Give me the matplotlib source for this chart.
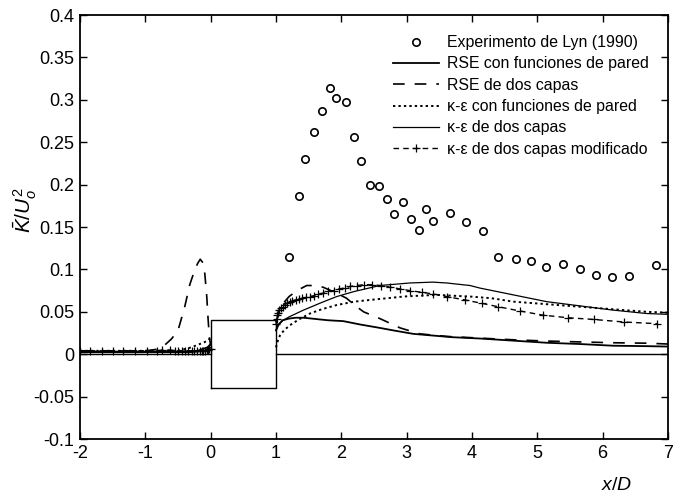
import numpy as np
import matplotlib
matplotlib.use('Agg')
import matplotlib.pyplot as plt
from matplotlib.ticker import FuncFormatter

plt.rcParams['font.family'] = ['Liberation Sans', 'DejaVu Sans']
plt.rcParams['axes.unicode_minus'] = False
plt.rcParams['mathtext.fontset'] = 'custom'
plt.rcParams['mathtext.it'] = 'Liberation Sans:italic'
plt.rcParams['mathtext.rm'] = 'Liberation Sans'

# experimento de Lyn (1990)
x_exp = [1.20, 1.35, 1.45, 1.58, 1.70, 1.82, 1.92, 2.07, 2.19, 2.30, 2.44, 2.58,
         2.70, 2.80, 2.95, 3.06, 3.19, 3.30, 3.40, 3.67, 3.91, 4.17, 4.40, 4.67,
         4.90, 5.14, 5.40, 5.66, 5.90, 6.15, 6.41, 6.81]
k_exp = [0.115, 0.186, 0.230, 0.262, 0.287, 0.314, 0.302, 0.297, 0.256, 0.228,
         0.200, 0.198, 0.183, 0.165, 0.179, 0.159, 0.147, 0.171, 0.157, 0.166,
         0.156, 0.145, 0.115, 0.112, 0.110, 0.103, 0.106, 0.100, 0.093, 0.091,
         0.092, 0.105]

# RSE con funciones de pared
x_rse_fp_up = [-2.0, -0.5, -0.2, -0.05, 0.0]
k_rse_fp_up = [0.003, 0.003, 0.004, 0.008, 0.012]
x_rse_fp = [1.0, 1.03, 1.1, 1.2, 1.3, 1.42, 1.55, 1.67, 1.8, 2.03, 2.29, 2.59,
            2.8, 3.1, 3.4, 3.71, 4.12, 4.63, 5.14, 5.65, 6.16, 6.67, 7.0]
k_rse_fp = [0.028, 0.034, 0.040, 0.042, 0.043, 0.043, 0.042, 0.041, 0.040,
            0.039, 0.035, 0.031, 0.028, 0.024, 0.022, 0.020, 0.0185, 0.016,
            0.0135, 0.012, 0.010, 0.0095, 0.009]

# RSE de dos capas
x_rse_dc_up = [-2.0, -1.0, -0.8, -0.7, -0.6, -0.5, -0.4, -0.32, -0.25, -0.2,
               -0.16, -0.12, -0.09, -0.06, -0.04, -0.02, 0.0]
k_rse_dc_up = [0.004, 0.004, 0.006, 0.011, 0.018, 0.028, 0.055, 0.082, 0.098,
               0.107, 0.112, 0.108, 0.095, 0.068, 0.042, 0.020, 0.010]
x_rse_dc = [1.0, 1.05, 1.11, 1.2, 1.32, 1.47, 1.6, 1.72, 1.9, 2.08, 2.2, 2.34,
            2.59, 2.9, 3.2, 3.61, 4.12, 4.63, 5.14, 5.65, 6.16, 6.67, 7.0]
k_rse_dc = [0.038, 0.052, 0.060, 0.068, 0.075, 0.081, 0.081, 0.079, 0.073,
            0.066, 0.058, 0.050, 0.042, 0.031, 0.024, 0.021, 0.019, 0.017,
            0.0155, 0.0145, 0.0135, 0.013, 0.012]

# k-e con funciones de pared
x_ke_fp_up = [-2.0, -0.5, -0.3, -0.2, -0.1, -0.05, -0.02, 0.0]
k_ke_fp_up = [0.004, 0.004, 0.008, 0.011, 0.014, 0.016, 0.018, 0.016]
x_ke_fp = [1.0, 1.02, 1.06, 1.12, 1.21, 1.35, 1.52, 1.7, 1.93, 2.2, 2.44, 2.7,
           2.95, 3.2, 3.46, 3.7, 3.97, 4.3, 4.63, 5.14, 5.65, 6.16, 6.67, 7.0]
k_ke_fp = [0.008, 0.014, 0.022, 0.028, 0.034, 0.041, 0.048, 0.053, 0.058,
           0.062, 0.064, 0.066, 0.068, 0.069, 0.070, 0.069, 0.068, 0.066,
           0.062, 0.059, 0.056, 0.053, 0.050, 0.049]

# k-e de dos capas
x_ke_dc_up = [-2.0, -0.3, -0.1, 0.0]
k_ke_dc_up = [0.002, 0.002, 0.004, 0.008]
x_ke_dc = [1.0, 1.05, 1.11, 1.2, 1.42, 1.7, 1.93, 2.2, 2.59, 3.05, 3.4, 3.61,
           3.97, 4.12, 4.63, 5.14, 5.65, 6.16, 6.67, 7.0]
k_ke_dc = [0.028, 0.036, 0.040, 0.044, 0.052, 0.061, 0.068, 0.074, 0.081,
           0.084, 0.085, 0.084, 0.081, 0.078, 0.070, 0.062, 0.057, 0.052,
           0.048, 0.047]

# k-e de dos capas modificado (nodos de la malla)
x_ke_mod_up = [-2.0, -1.85, -1.67, -1.50, -1.34, -1.16, -0.97, -0.82, -0.74,
               -0.62, -0.54, -0.50, -0.44, -0.39, -0.35, -0.29, -0.25, -0.21,
               -0.17, -0.14, -0.11, -0.08, -0.06, -0.04, -0.02, 0.0]
k_ke_mod_up = [0.004, 0.004, 0.004, 0.004, 0.004, 0.004, 0.004, 0.004, 0.005,
               0.005, 0.004, 0.004, 0.004, 0.004, 0.004, 0.004, 0.004, 0.004,
               0.004, 0.004, 0.004, 0.004, 0.005, 0.005, 0.006, 0.006]
x_ke_mod = [1.0, 1.01, 1.02, 1.03, 1.05, 1.07, 1.1, 1.13, 1.17, 1.21, 1.25,
            1.3, 1.35, 1.4, 1.46, 1.52, 1.58, 1.65, 1.72, 1.8, 1.88, 1.96,
            2.05, 2.14, 2.24, 2.35, 2.47, 2.6, 2.75, 2.9, 3.05, 3.23, 3.41,
            3.61, 3.89, 4.15, 4.4, 4.73, 5.09, 5.47, 5.86, 6.32, 6.83]
k_ke_mod = [0.036, 0.042, 0.046, 0.049, 0.052, 0.054, 0.056, 0.058, 0.060,
            0.062, 0.063, 0.064, 0.065, 0.066, 0.067, 0.068, 0.069, 0.071,
            0.072, 0.074, 0.075, 0.077, 0.078, 0.080, 0.081, 0.082, 0.082,
            0.081, 0.079, 0.077, 0.075, 0.073, 0.071, 0.068, 0.064, 0.060,
            0.056, 0.051, 0.046, 0.043, 0.041, 0.038, 0.036]

# cilindro cuadrado (x/D entre 0 y 1)
body_x = [0, 0, 1, 1, 0]
body_y = [-0.04, 0.04, 0.04, -0.04, -0.04]

fig = plt.figure(figsize=(6.81, 4.97), dpi=100)
ax = fig.add_axes([0.1175, 0.1167, 0.8634, 0.8531])

ax.plot(body_x, body_y, color='k', lw=1.0)
ax.plot([-2, 0], [0, 0], color='k', lw=1.0)
ax.plot([1, 7], [0, 0], color='k', lw=1.0)

ax.plot(x_exp, k_exp, 'o', mfc='none', mec='k', ms=5.3, mew=1.2,
        label='Experimento de Lyn (1990)')

ax.plot(x_rse_fp, k_rse_fp, '-', color='k', lw=1.3,
        label='RSE con funciones de pared')
ax.plot(x_rse_fp_up, k_rse_fp_up, '-', color='k', lw=1.3)

ax.plot(x_rse_dc, k_rse_dc, color='k', lw=1.2, dashes=(7, 6),
        label='RSE de dos capas')
ax.plot(x_rse_dc_up, k_rse_dc_up, color='k', lw=1.2, dashes=(7, 6))

ax.plot(x_ke_fp, k_ke_fp, color='k', lw=1.4, dashes=(1.2, 1.6),
        label='κ-ε con funciones de pared')
ax.plot(x_ke_fp_up, k_ke_fp_up, color='k', lw=1.4, dashes=(1.2, 1.6))

ax.plot(x_ke_dc, k_ke_dc, '-', color='k', lw=0.9,
        label='κ-ε de dos capas')
ax.plot(x_ke_dc_up, k_ke_dc_up, '-', color='k', lw=0.9)

ax.plot(x_ke_mod, k_ke_mod, color='k', lw=1.0, dashes=(4, 3), marker='+',
        ms=6, mew=0.9, label='κ-ε de dos capas modificado')
ax.plot(x_ke_mod_up, k_ke_mod_up, color='k', lw=1.0, dashes=(4, 3),
        marker='+', ms=6, mew=0.9)

ax.set_xlim(-2, 7)
ax.set_ylim(-0.1, 0.4)
ax.set_xticks(np.arange(-2, 8, 1))
ax.set_yticks(np.arange(-0.1, 0.41, 0.05))
ax.yaxis.set_major_formatter(FuncFormatter(lambda v, p: '%g' % round(v, 2)))
ax.tick_params(direction='in', length=5, width=1, top=True, right=True,
               labelsize=13, pad=4)
for s in ax.spines.values():
    s.set_linewidth(1.3)

ax.legend(loc='upper right', bbox_to_anchor=(0.984, 0.975), frameon=False,
          fontsize=11.4, handlelength=2.9, handletextpad=0.5,
          labelspacing=0.40, borderaxespad=0.2)

fig.text(25 / 681, 1 - 210 / 497, r'$\bar{K}/U_o^2$', rotation=90,
         fontsize=15, ha='center', va='center')
fig.text(617 / 681, 1 - 486 / 497, r'$x/D$', fontsize=14, ha='center',
         va='center')

fig.savefig('out.png', dpi=100)
